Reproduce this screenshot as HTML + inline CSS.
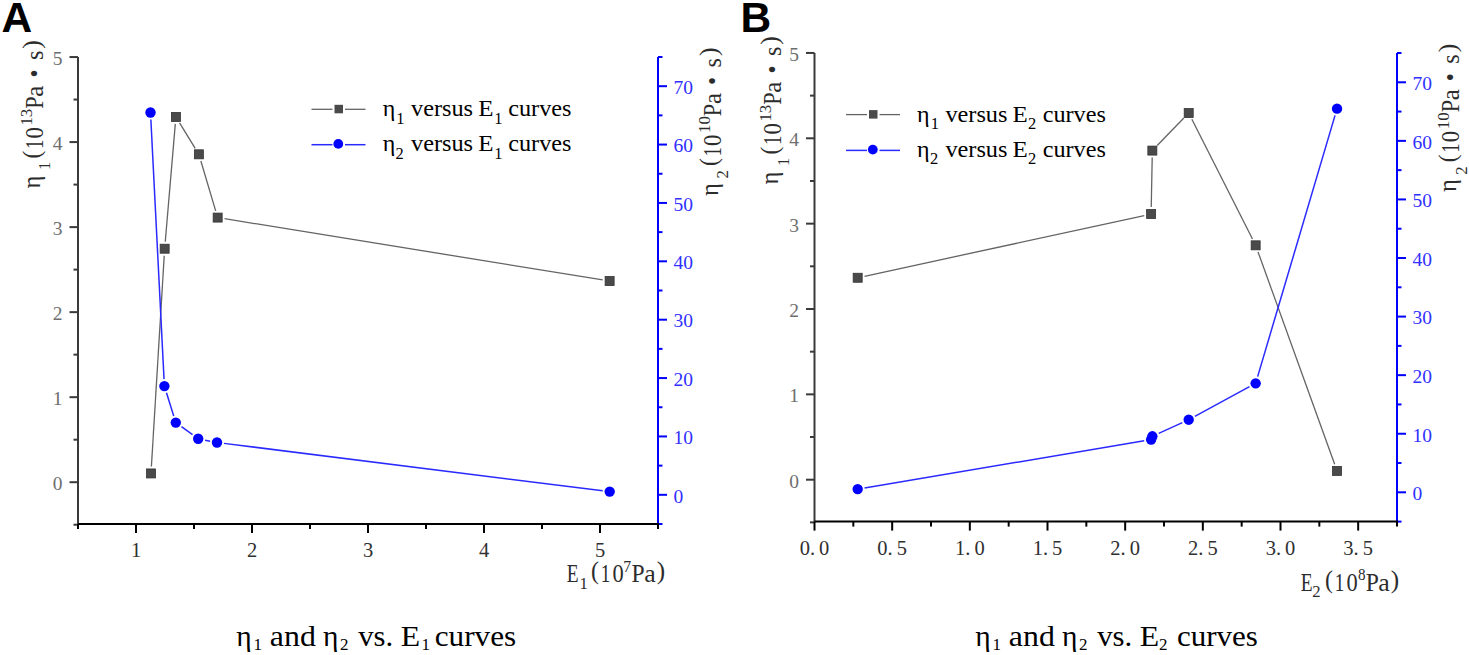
<!DOCTYPE html>
<html><head><meta charset="utf-8"><title>Figure</title>
<style>
html,body{margin:0;padding:0;background:#fff;}
body{width:1469px;height:655px;overflow:hidden;}
svg{display:block;font-family:"Liberation Serif", serif;}
</style></head><body>
<svg width="1469" height="655" viewBox="0 0 1469 655">
<rect width="1469" height="655" fill="#fff"/>
<text x="1.5" y="32" font-family='"Liberation Sans", sans-serif' font-weight="bold" font-size="42.5" fill="#000">A</text>
<text x="740.5" y="32.4" font-family='"Liberation Sans", sans-serif' font-weight="bold" font-size="42.5" fill="#000">B</text>
<line x1="78.0" y1="57.0" x2="78.0" y2="524.0" stroke="#3a3a3a" stroke-width="2"/>
<line x1="69.5" y1="482.2" x2="78.0" y2="482.2" stroke="#3a3a3a" stroke-width="2"/>
<line x1="69.5" y1="397.17" x2="78.0" y2="397.17" stroke="#3a3a3a" stroke-width="2"/>
<line x1="69.5" y1="312.14" x2="78.0" y2="312.14" stroke="#3a3a3a" stroke-width="2"/>
<line x1="69.5" y1="227.11" x2="78.0" y2="227.11" stroke="#3a3a3a" stroke-width="2"/>
<line x1="69.5" y1="142.08" x2="78.0" y2="142.08" stroke="#3a3a3a" stroke-width="2"/>
<line x1="69.5" y1="57.05" x2="78.0" y2="57.05" stroke="#3a3a3a" stroke-width="2"/>
<line x1="73.5" y1="524.72" x2="78.0" y2="524.72" stroke="#3a3a3a" stroke-width="2"/>
<line x1="73.5" y1="439.69" x2="78.0" y2="439.69" stroke="#3a3a3a" stroke-width="2"/>
<line x1="73.5" y1="354.65" x2="78.0" y2="354.65" stroke="#3a3a3a" stroke-width="2"/>
<line x1="73.5" y1="269.62" x2="78.0" y2="269.62" stroke="#3a3a3a" stroke-width="2"/>
<line x1="73.5" y1="184.59" x2="78.0" y2="184.59" stroke="#3a3a3a" stroke-width="2"/>
<line x1="73.5" y1="99.56" x2="78.0" y2="99.56" stroke="#3a3a3a" stroke-width="2"/>
<line x1="658.0" y1="57.0" x2="658.0" y2="524.0" stroke="#0000ff" stroke-width="2"/>
<line x1="658.0" y1="494.81" x2="667.0" y2="494.81" stroke="#0000ff" stroke-width="2"/>
<line x1="658.0" y1="436.44" x2="667.0" y2="436.44" stroke="#0000ff" stroke-width="2"/>
<line x1="658.0" y1="378.06" x2="667.0" y2="378.06" stroke="#0000ff" stroke-width="2"/>
<line x1="658.0" y1="319.69" x2="667.0" y2="319.69" stroke="#0000ff" stroke-width="2"/>
<line x1="658.0" y1="261.31" x2="667.0" y2="261.31" stroke="#0000ff" stroke-width="2"/>
<line x1="658.0" y1="202.94" x2="667.0" y2="202.94" stroke="#0000ff" stroke-width="2"/>
<line x1="658.0" y1="144.56" x2="667.0" y2="144.56" stroke="#0000ff" stroke-width="2"/>
<line x1="658.0" y1="86.19" x2="667.0" y2="86.19" stroke="#0000ff" stroke-width="2"/>
<line x1="658.0" y1="524" x2="662.5" y2="524" stroke="#0000ff" stroke-width="2"/>
<line x1="658.0" y1="465.62" x2="662.5" y2="465.62" stroke="#0000ff" stroke-width="2"/>
<line x1="658.0" y1="407.25" x2="662.5" y2="407.25" stroke="#0000ff" stroke-width="2"/>
<line x1="658.0" y1="348.88" x2="662.5" y2="348.88" stroke="#0000ff" stroke-width="2"/>
<line x1="658.0" y1="290.5" x2="662.5" y2="290.5" stroke="#0000ff" stroke-width="2"/>
<line x1="658.0" y1="232.12" x2="662.5" y2="232.12" stroke="#0000ff" stroke-width="2"/>
<line x1="658.0" y1="173.75" x2="662.5" y2="173.75" stroke="#0000ff" stroke-width="2"/>
<line x1="658.0" y1="115.38" x2="662.5" y2="115.38" stroke="#0000ff" stroke-width="2"/>
<line x1="658.0" y1="57" x2="662.5" y2="57" stroke="#0000ff" stroke-width="2"/>
<line x1="78.0" y1="524.0" x2="659.0" y2="524.0" stroke="#000" stroke-width="2"/>
<line x1="136" y1="524.0" x2="136" y2="533.0" stroke="#000" stroke-width="2"/>
<line x1="252" y1="524.0" x2="252" y2="533.0" stroke="#000" stroke-width="2"/>
<line x1="368" y1="524.0" x2="368" y2="533.0" stroke="#000" stroke-width="2"/>
<line x1="484" y1="524.0" x2="484" y2="533.0" stroke="#000" stroke-width="2"/>
<line x1="600" y1="524.0" x2="600" y2="533.0" stroke="#000" stroke-width="2"/>
<line x1="78" y1="524.0" x2="78" y2="529.0" stroke="#000" stroke-width="2"/>
<line x1="194" y1="524.0" x2="194" y2="529.0" stroke="#000" stroke-width="2"/>
<line x1="310" y1="524.0" x2="310" y2="529.0" stroke="#000" stroke-width="2"/>
<line x1="426" y1="524.0" x2="426" y2="529.0" stroke="#000" stroke-width="2"/>
<line x1="542" y1="524.0" x2="542" y2="529.0" stroke="#000" stroke-width="2"/>
<line x1="658" y1="524.0" x2="658" y2="529.0" stroke="#000" stroke-width="2"/>
<text x="62.5" y="490.2" text-anchor="end" font-size="19.5" fill="#6e6e6e">0</text>
<text x="62.5" y="405.17" text-anchor="end" font-size="19.5" fill="#6e6e6e">1</text>
<text x="62.5" y="320.14" text-anchor="end" font-size="19.5" fill="#6e6e6e">2</text>
<text x="62.5" y="235.11" text-anchor="end" font-size="19.5" fill="#6e6e6e">3</text>
<text x="62.5" y="150.08" text-anchor="end" font-size="19.5" fill="#6e6e6e">4</text>
<text x="62.5" y="65.05" text-anchor="end" font-size="19.5" fill="#6e6e6e">5</text>
<text x="673.5" y="502.61" font-size="19.5" fill="#3030ff">0</text>
<text x="673.5" y="444.24" font-size="19.5" fill="#3030ff">10</text>
<text x="673.5" y="385.86" font-size="19.5" fill="#3030ff">20</text>
<text x="673.5" y="327.49" font-size="19.5" fill="#3030ff">30</text>
<text x="673.5" y="269.11" font-size="19.5" fill="#3030ff">40</text>
<text x="673.5" y="210.74" font-size="19.5" fill="#3030ff">50</text>
<text x="673.5" y="152.36" font-size="19.5" fill="#3030ff">60</text>
<text x="673.5" y="93.99" font-size="19.5" fill="#3030ff">70</text>
<text x="136" y="557.4" text-anchor="middle" font-size="20.5" fill="#303030">1</text>
<text x="252" y="557.4" text-anchor="middle" font-size="20.5" fill="#303030">2</text>
<text x="368" y="557.4" text-anchor="middle" font-size="20.5" fill="#303030">3</text>
<text x="484" y="557.4" text-anchor="middle" font-size="20.5" fill="#303030">4</text>
<text x="600" y="557.4" text-anchor="middle" font-size="20.5" fill="#303030">5</text>
<line x1="814.5" y1="53.0" x2="814.5" y2="521.6" stroke="#3a3a3a" stroke-width="2"/>
<line x1="806.0" y1="479.7" x2="814.5" y2="479.7" stroke="#3a3a3a" stroke-width="2"/>
<line x1="806.0" y1="394.35" x2="814.5" y2="394.35" stroke="#3a3a3a" stroke-width="2"/>
<line x1="806.0" y1="309" x2="814.5" y2="309" stroke="#3a3a3a" stroke-width="2"/>
<line x1="806.0" y1="223.65" x2="814.5" y2="223.65" stroke="#3a3a3a" stroke-width="2"/>
<line x1="806.0" y1="138.3" x2="814.5" y2="138.3" stroke="#3a3a3a" stroke-width="2"/>
<line x1="806.0" y1="52.95" x2="814.5" y2="52.95" stroke="#3a3a3a" stroke-width="2"/>
<line x1="810.0" y1="522.38" x2="814.5" y2="522.38" stroke="#3a3a3a" stroke-width="2"/>
<line x1="810.0" y1="437.02" x2="814.5" y2="437.02" stroke="#3a3a3a" stroke-width="2"/>
<line x1="810.0" y1="351.68" x2="814.5" y2="351.68" stroke="#3a3a3a" stroke-width="2"/>
<line x1="810.0" y1="266.32" x2="814.5" y2="266.32" stroke="#3a3a3a" stroke-width="2"/>
<line x1="810.0" y1="180.98" x2="814.5" y2="180.98" stroke="#3a3a3a" stroke-width="2"/>
<line x1="810.0" y1="95.62" x2="814.5" y2="95.62" stroke="#3a3a3a" stroke-width="2"/>
<line x1="1397.0" y1="53.0" x2="1397.0" y2="521.6" stroke="#0000ff" stroke-width="2"/>
<line x1="1397.0" y1="492.31" x2="1406.0" y2="492.31" stroke="#0000ff" stroke-width="2"/>
<line x1="1397.0" y1="433.74" x2="1406.0" y2="433.74" stroke="#0000ff" stroke-width="2"/>
<line x1="1397.0" y1="375.16" x2="1406.0" y2="375.16" stroke="#0000ff" stroke-width="2"/>
<line x1="1397.0" y1="316.59" x2="1406.0" y2="316.59" stroke="#0000ff" stroke-width="2"/>
<line x1="1397.0" y1="258.01" x2="1406.0" y2="258.01" stroke="#0000ff" stroke-width="2"/>
<line x1="1397.0" y1="199.44" x2="1406.0" y2="199.44" stroke="#0000ff" stroke-width="2"/>
<line x1="1397.0" y1="140.86" x2="1406.0" y2="140.86" stroke="#0000ff" stroke-width="2"/>
<line x1="1397.0" y1="82.29" x2="1406.0" y2="82.29" stroke="#0000ff" stroke-width="2"/>
<line x1="1397.0" y1="521.6" x2="1401.5" y2="521.6" stroke="#0000ff" stroke-width="2"/>
<line x1="1397.0" y1="463.03" x2="1401.5" y2="463.03" stroke="#0000ff" stroke-width="2"/>
<line x1="1397.0" y1="404.45" x2="1401.5" y2="404.45" stroke="#0000ff" stroke-width="2"/>
<line x1="1397.0" y1="345.88" x2="1401.5" y2="345.88" stroke="#0000ff" stroke-width="2"/>
<line x1="1397.0" y1="287.3" x2="1401.5" y2="287.3" stroke="#0000ff" stroke-width="2"/>
<line x1="1397.0" y1="228.73" x2="1401.5" y2="228.73" stroke="#0000ff" stroke-width="2"/>
<line x1="1397.0" y1="170.15" x2="1401.5" y2="170.15" stroke="#0000ff" stroke-width="2"/>
<line x1="1397.0" y1="111.57" x2="1401.5" y2="111.57" stroke="#0000ff" stroke-width="2"/>
<line x1="1397.0" y1="53" x2="1401.5" y2="53" stroke="#0000ff" stroke-width="2"/>
<line x1="814.5" y1="521.6" x2="1398.0" y2="521.6" stroke="#000" stroke-width="2"/>
<line x1="814.5" y1="521.6" x2="814.5" y2="530.6" stroke="#000" stroke-width="2"/>
<line x1="892.17" y1="521.6" x2="892.17" y2="530.6" stroke="#000" stroke-width="2"/>
<line x1="969.83" y1="521.6" x2="969.83" y2="530.6" stroke="#000" stroke-width="2"/>
<line x1="1047.5" y1="521.6" x2="1047.5" y2="530.6" stroke="#000" stroke-width="2"/>
<line x1="1125.17" y1="521.6" x2="1125.17" y2="530.6" stroke="#000" stroke-width="2"/>
<line x1="1202.83" y1="521.6" x2="1202.83" y2="530.6" stroke="#000" stroke-width="2"/>
<line x1="1280.5" y1="521.6" x2="1280.5" y2="530.6" stroke="#000" stroke-width="2"/>
<line x1="1358.17" y1="521.6" x2="1358.17" y2="530.6" stroke="#000" stroke-width="2"/>
<line x1="853.33" y1="521.6" x2="853.33" y2="526.6" stroke="#000" stroke-width="2"/>
<line x1="931" y1="521.6" x2="931" y2="526.6" stroke="#000" stroke-width="2"/>
<line x1="1008.67" y1="521.6" x2="1008.67" y2="526.6" stroke="#000" stroke-width="2"/>
<line x1="1086.33" y1="521.6" x2="1086.33" y2="526.6" stroke="#000" stroke-width="2"/>
<line x1="1164" y1="521.6" x2="1164" y2="526.6" stroke="#000" stroke-width="2"/>
<line x1="1241.67" y1="521.6" x2="1241.67" y2="526.6" stroke="#000" stroke-width="2"/>
<line x1="1319.33" y1="521.6" x2="1319.33" y2="526.6" stroke="#000" stroke-width="2"/>
<line x1="1397" y1="521.6" x2="1397" y2="526.6" stroke="#000" stroke-width="2"/>
<text x="799" y="487.7" text-anchor="end" font-size="19.5" fill="#6e6e6e">0</text>
<text x="799" y="402.35" text-anchor="end" font-size="19.5" fill="#6e6e6e">1</text>
<text x="799" y="317" text-anchor="end" font-size="19.5" fill="#6e6e6e">2</text>
<text x="799" y="231.65" text-anchor="end" font-size="19.5" fill="#6e6e6e">3</text>
<text x="799" y="146.3" text-anchor="end" font-size="19.5" fill="#6e6e6e">4</text>
<text x="799" y="60.95" text-anchor="end" font-size="19.5" fill="#6e6e6e">5</text>
<text x="1412.5" y="500.11" font-size="19.5" fill="#3030ff">0</text>
<text x="1412.5" y="441.54" font-size="19.5" fill="#3030ff">10</text>
<text x="1412.5" y="382.96" font-size="19.5" fill="#3030ff">20</text>
<text x="1412.5" y="324.39" font-size="19.5" fill="#3030ff">30</text>
<text x="1412.5" y="265.81" font-size="19.5" fill="#3030ff">40</text>
<text x="1412.5" y="207.24" font-size="19.5" fill="#3030ff">50</text>
<text x="1412.5" y="148.66" font-size="19.5" fill="#3030ff">60</text>
<text x="1412.5" y="90.09" font-size="19.5" fill="#3030ff">70</text>
<text x="814.5" y="555" text-anchor="middle" font-size="20.5" fill="#303030">0. 0</text>
<text x="892.17" y="555" text-anchor="middle" font-size="20.5" fill="#303030">0. 5</text>
<text x="969.83" y="555" text-anchor="middle" font-size="20.5" fill="#303030">1. 0</text>
<text x="1047.5" y="555" text-anchor="middle" font-size="20.5" fill="#303030">1. 5</text>
<text x="1125.17" y="555" text-anchor="middle" font-size="20.5" fill="#303030">2. 0</text>
<text x="1202.83" y="555" text-anchor="middle" font-size="20.5" fill="#303030">2. 5</text>
<text x="1280.5" y="555" text-anchor="middle" font-size="20.5" fill="#303030">3. 0</text>
<text x="1358.17" y="555" text-anchor="middle" font-size="20.5" fill="#303030">3. 5</text>
<line x1="151.39" y1="466.45" x2="164.23" y2="255.69" stroke="#646464" stroke-width="1.3"/>
<line x1="165.25" y1="241.73" x2="175.31" y2="123.89" stroke="#646464" stroke-width="1.3"/>
<line x1="179.57" y1="122.88" x2="195.21" y2="148.36" stroke="#646464" stroke-width="1.3"/>
<line x1="200.87" y1="161.03" x2="215.67" y2="210.88" stroke="#646464" stroke-width="1.3"/>
<line x1="224.57" y1="218.7" x2="602.72" y2="279.9" stroke="#646464" stroke-width="1.3"/>
<rect x="146.46" y="468.94" width="9" height="9" fill="#4a4a4a" stroke="#333" stroke-width="0.8"/>
<rect x="160.15" y="244.21" width="9" height="9" fill="#4a4a4a" stroke="#333" stroke-width="0.8"/>
<rect x="171.4" y="112.41" width="9" height="9" fill="#4a4a4a" stroke="#333" stroke-width="0.8"/>
<rect x="194.37" y="149.82" width="9" height="9" fill="#4a4a4a" stroke="#333" stroke-width="0.8"/>
<rect x="213.16" y="213.09" width="9" height="9" fill="#4a4a4a" stroke="#333" stroke-width="0.8"/>
<rect x="605.13" y="276.52" width="9" height="9" fill="#4a4a4a" stroke="#333" stroke-width="0.8"/>
<line x1="150.86" y1="119.49" x2="164.04" y2="379.11" stroke="#2a2aff" stroke-width="1.5"/>
<line x1="166.49" y1="392.78" x2="173.71" y2="415.92" stroke="#2a2aff" stroke-width="1.5"/>
<line x1="181.47" y1="426.7" x2="192.53" y2="434.7" stroke="#2a2aff" stroke-width="1.5"/>
<line x1="205.07" y1="440.15" x2="210.13" y2="441.15" stroke="#2a2aff" stroke-width="1.5"/>
<line x1="223.95" y1="443.37" x2="602.75" y2="490.73" stroke="#2a2aff" stroke-width="1.5"/>
<circle cx="150.5" cy="112.5" r="5.2" fill="#0000ff"/>
<circle cx="164.4" cy="386.1" r="5.2" fill="#0000ff"/>
<circle cx="175.8" cy="422.6" r="5.2" fill="#0000ff"/>
<circle cx="198.2" cy="438.8" r="5.2" fill="#0000ff"/>
<circle cx="217" cy="442.5" r="5.2" fill="#0000ff"/>
<circle cx="609.7" cy="491.6" r="5.2" fill="#0000ff"/>
<line x1="864.52" y1="276.28" x2="1144.27" y2="215.58" stroke="#646464" stroke-width="1.3"/>
<line x1="1151.24" y1="207.09" x2="1152.21" y2="157.59" stroke="#646464" stroke-width="1.3"/>
<line x1="1157.22" y1="145.56" x2="1183.83" y2="118.07" stroke="#646464" stroke-width="1.3"/>
<line x1="1191.86" y1="119.28" x2="1252.49" y2="239.08" stroke="#646464" stroke-width="1.3"/>
<line x1="1258.02" y1="251.91" x2="1334.67" y2="464.32" stroke="#646464" stroke-width="1.3"/>
<rect x="853.18" y="273.26" width="9" height="9" fill="#4a4a4a" stroke="#333" stroke-width="0.8"/>
<rect x="1146.61" y="209.59" width="9" height="9" fill="#4a4a4a" stroke="#333" stroke-width="0.8"/>
<rect x="1147.85" y="146.09" width="9" height="9" fill="#4a4a4a" stroke="#333" stroke-width="0.8"/>
<rect x="1184.2" y="108.54" width="9" height="9" fill="#4a4a4a" stroke="#333" stroke-width="0.8"/>
<rect x="1251.15" y="240.83" width="9" height="9" fill="#4a4a4a" stroke="#333" stroke-width="0.8"/>
<rect x="1332.54" y="466.41" width="9" height="9" fill="#4a4a4a" stroke="#333" stroke-width="0.8"/>
<line x1="864.59" y1="487.93" x2="1144.2" y2="440.76" stroke="#2a2aff" stroke-width="1.5"/>

<line x1="1158.72" y1="433.4" x2="1182.33" y2="422.59" stroke="#2a2aff" stroke-width="1.5"/>
<line x1="1194.85" y1="416.34" x2="1249.49" y2="386.7" stroke="#2a2aff" stroke-width="1.5"/>
<line x1="1257.64" y1="376.65" x2="1335.05" y2="115.36" stroke="#2a2aff" stroke-width="1.5"/>
<circle cx="857.68" cy="489.09" r="5.2" fill="#0000ff"/>
<circle cx="1151.11" cy="439.6" r="5.2" fill="#0000ff"/>
<circle cx="1152.35" cy="436.31" r="5.2" fill="#0000ff"/>
<circle cx="1188.7" cy="419.68" r="5.2" fill="#0000ff"/>
<circle cx="1255.65" cy="383.36" r="5.2" fill="#0000ff"/>
<circle cx="1337.04" cy="108.65" r="5.2" fill="#0000ff"/>
<line x1="311.5" y1="109.3" x2="332.5" y2="109.3" stroke="#646464" stroke-width="1.3"/>
<line x1="345.0" y1="109.3" x2="365.5" y2="109.3" stroke="#646464" stroke-width="1.3"/>
<rect x="334.5" y="104.8" width="8.5" height="8.5" fill="#4a4a4a"/>
<line x1="311.5" y1="144.7" x2="332.5" y2="144.7" stroke="#2a2aff" stroke-width="1.5"/>
<line x1="345.0" y1="144.7" x2="365.5" y2="144.7" stroke="#2a2aff" stroke-width="1.5"/>
<circle cx="338.3" cy="143.89999999999998" r="4.9" fill="#0000ff"/>
<text x="382.73" y="116.2" font-size="24" fill="#000">η</text>
<text x="396.25" y="123.6" font-size="16.5" fill="#000">1</text>
<text x="411" y="116.2" font-size="24" fill="#000" textLength="62.08" lengthAdjust="spacingAndGlyphs">versus</text>
<text x="478.18" y="116.2" font-size="24" fill="#000" textLength="15.26" lengthAdjust="spacingAndGlyphs">E</text>
<text x="494.15" y="123.6" font-size="16.5" fill="#000">1</text>
<text x="508.28" y="116.2" font-size="24" fill="#000" textLength="63.2" lengthAdjust="spacingAndGlyphs">curves</text>
<text x="382.73" y="151.2" font-size="24" fill="#000">η</text>
<text x="395.57" y="158.6" font-size="16.5" fill="#000">2</text>
<text x="411" y="151.2" font-size="24" fill="#000" textLength="62.08" lengthAdjust="spacingAndGlyphs">versus</text>
<text x="478.18" y="151.2" font-size="24" fill="#000" textLength="15.26" lengthAdjust="spacingAndGlyphs">E</text>
<text x="494.15" y="158.6" font-size="16.5" fill="#000">1</text>
<text x="508.28" y="151.2" font-size="24" fill="#000" textLength="63.2" lengthAdjust="spacingAndGlyphs">curves</text>
<line x1="846" y1="114.6" x2="867" y2="114.6" stroke="#646464" stroke-width="1.3"/>
<line x1="879.5" y1="114.6" x2="900" y2="114.6" stroke="#646464" stroke-width="1.3"/>
<rect x="869" y="110.1" width="8.5" height="8.5" fill="#4a4a4a"/>
<line x1="846" y1="150.4" x2="867" y2="150.4" stroke="#2a2aff" stroke-width="1.5"/>
<line x1="879.5" y1="150.4" x2="900" y2="150.4" stroke="#2a2aff" stroke-width="1.5"/>
<circle cx="872.8" cy="149.6" r="4.9" fill="#0000ff"/>
<text x="917.12" y="121.8" font-size="24" fill="#000">η</text>
<text x="930.65" y="129.2" font-size="16.5" fill="#000">1</text>
<text x="945.4" y="121.8" font-size="24" fill="#000" textLength="62.08" lengthAdjust="spacingAndGlyphs">versus</text>
<text x="1012.58" y="121.8" font-size="24" fill="#000" textLength="15.26" lengthAdjust="spacingAndGlyphs">E</text>
<text x="1028.07" y="129.2" font-size="16.5" fill="#000">2</text>
<text x="1042.68" y="121.8" font-size="24" fill="#000" textLength="63.2" lengthAdjust="spacingAndGlyphs">curves</text>
<text x="917.12" y="156.8" font-size="24" fill="#000">η</text>
<text x="929.97" y="164.2" font-size="16.5" fill="#000">2</text>
<text x="945.4" y="156.8" font-size="24" fill="#000" textLength="62.08" lengthAdjust="spacingAndGlyphs">versus</text>
<text x="1012.58" y="156.8" font-size="24" fill="#000" textLength="15.26" lengthAdjust="spacingAndGlyphs">E</text>
<text x="1028.07" y="164.2" font-size="16.5" fill="#000">2</text>
<text x="1042.68" y="156.8" font-size="24" fill="#000" textLength="63.2" lengthAdjust="spacingAndGlyphs">curves</text>
<text transform="translate(42.8,188.1) rotate(-90)" x="-0.38" y="-3" font-size="24.5" fill="#2c2c2c">η</text>
<text transform="translate(42.8,188.1) rotate(-90)" x="18.23" y="7.5" font-size="16.7" fill="#2c2c2c">1</text>
<text transform="translate(42.8,188.1) rotate(-90)" x="29.57" y="-3.3" font-size="24.5" fill="#2c2c2c" textLength="7.78" lengthAdjust="spacingAndGlyphs">(</text>
<text transform="translate(42.8,188.1) rotate(-90)" x="39.05" y="0" font-size="24.5" fill="#2c2c2c" textLength="9.37" lengthAdjust="spacingAndGlyphs">1</text>
<text transform="translate(42.8,188.1) rotate(-90)" x="49.54" y="0" font-size="24.5" fill="#2c2c2c" textLength="11.33" lengthAdjust="spacingAndGlyphs">0</text>
<text transform="translate(42.8,188.1) rotate(-90)" x="62.51" y="-10.6" font-size="16.7" fill="#2c2c2c" textLength="16.95" lengthAdjust="spacingAndGlyphs">13</text>
<text transform="translate(42.8,188.1) rotate(-90)" x="79.36" y="0" font-size="24.5" fill="#2c2c2c" textLength="12.33" lengthAdjust="spacingAndGlyphs">P</text>
<text transform="translate(42.8,188.1) rotate(-90)" x="91.43" y="0" font-size="24.5" fill="#2c2c2c" textLength="11.01" lengthAdjust="spacingAndGlyphs">a</text>
<text transform="translate(42.8,188.1) rotate(-90)" x="110.52" y="0" font-size="24.5" fill="#2c2c2c" textLength="7.95" lengthAdjust="spacingAndGlyphs">•</text>
<text transform="translate(42.8,188.1) rotate(-90)" x="128.01" y="0" font-size="24.5" fill="#2c2c2c" textLength="9.35" lengthAdjust="spacingAndGlyphs">s</text>
<text transform="translate(42.8,188.1) rotate(-90)" x="139.47" y="-3.3" font-size="24.5" fill="#2c2c2c" textLength="8.56" lengthAdjust="spacingAndGlyphs">)</text>
<text transform="translate(720.6,195.5) rotate(-90)" x="-0.38" y="-3" font-size="24.5" fill="#2c2c2c">η</text>
<text transform="translate(720.6,195.5) rotate(-90)" x="17.07" y="7.5" font-size="16.7" fill="#2c2c2c">2</text>
<text transform="translate(720.6,195.5) rotate(-90)" x="29.57" y="-3.3" font-size="24.5" fill="#2c2c2c" textLength="7.78" lengthAdjust="spacingAndGlyphs">(</text>
<text transform="translate(720.6,195.5) rotate(-90)" x="39.05" y="0" font-size="24.5" fill="#2c2c2c" textLength="9.37" lengthAdjust="spacingAndGlyphs">1</text>
<text transform="translate(720.6,195.5) rotate(-90)" x="49.54" y="0" font-size="24.5" fill="#2c2c2c" textLength="11.33" lengthAdjust="spacingAndGlyphs">0</text>
<text transform="translate(720.6,195.5) rotate(-90)" x="62.51" y="-10.6" font-size="16.7" fill="#2c2c2c" textLength="16.93" lengthAdjust="spacingAndGlyphs">10</text>
<text transform="translate(720.6,195.5) rotate(-90)" x="79.36" y="0" font-size="24.5" fill="#2c2c2c" textLength="12.33" lengthAdjust="spacingAndGlyphs">P</text>
<text transform="translate(720.6,195.5) rotate(-90)" x="91.43" y="0" font-size="24.5" fill="#2c2c2c" textLength="11.01" lengthAdjust="spacingAndGlyphs">a</text>
<text transform="translate(720.6,195.5) rotate(-90)" x="110.52" y="0" font-size="24.5" fill="#2c2c2c" textLength="7.95" lengthAdjust="spacingAndGlyphs">•</text>
<text transform="translate(720.6,195.5) rotate(-90)" x="128.01" y="0" font-size="24.5" fill="#2c2c2c" textLength="9.35" lengthAdjust="spacingAndGlyphs">s</text>
<text transform="translate(720.6,195.5) rotate(-90)" x="139.47" y="-3.3" font-size="24.5" fill="#2c2c2c" textLength="8.56" lengthAdjust="spacingAndGlyphs">)</text>
<text transform="translate(781.3,184.1) rotate(-90)" x="-0.38" y="-3" font-size="24.5" fill="#2c2c2c">η</text>
<text transform="translate(781.3,184.1) rotate(-90)" x="18.23" y="7.5" font-size="16.7" fill="#2c2c2c">1</text>
<text transform="translate(781.3,184.1) rotate(-90)" x="29.57" y="-3.3" font-size="24.5" fill="#2c2c2c" textLength="7.78" lengthAdjust="spacingAndGlyphs">(</text>
<text transform="translate(781.3,184.1) rotate(-90)" x="39.05" y="0" font-size="24.5" fill="#2c2c2c" textLength="9.37" lengthAdjust="spacingAndGlyphs">1</text>
<text transform="translate(781.3,184.1) rotate(-90)" x="49.54" y="0" font-size="24.5" fill="#2c2c2c" textLength="11.33" lengthAdjust="spacingAndGlyphs">0</text>
<text transform="translate(781.3,184.1) rotate(-90)" x="62.51" y="-10.6" font-size="16.7" fill="#2c2c2c" textLength="16.95" lengthAdjust="spacingAndGlyphs">13</text>
<text transform="translate(781.3,184.1) rotate(-90)" x="79.36" y="0" font-size="24.5" fill="#2c2c2c" textLength="12.33" lengthAdjust="spacingAndGlyphs">P</text>
<text transform="translate(781.3,184.1) rotate(-90)" x="91.43" y="0" font-size="24.5" fill="#2c2c2c" textLength="11.01" lengthAdjust="spacingAndGlyphs">a</text>
<text transform="translate(781.3,184.1) rotate(-90)" x="110.52" y="0" font-size="24.5" fill="#2c2c2c" textLength="7.95" lengthAdjust="spacingAndGlyphs">•</text>
<text transform="translate(781.3,184.1) rotate(-90)" x="128.01" y="0" font-size="24.5" fill="#2c2c2c" textLength="9.35" lengthAdjust="spacingAndGlyphs">s</text>
<text transform="translate(781.3,184.1) rotate(-90)" x="139.47" y="-3.3" font-size="24.5" fill="#2c2c2c" textLength="8.56" lengthAdjust="spacingAndGlyphs">)</text>
<text transform="translate(1459.2,191.7) rotate(-90)" x="-0.38" y="-3" font-size="24.5" fill="#2c2c2c">η</text>
<text transform="translate(1459.2,191.7) rotate(-90)" x="17.07" y="7.5" font-size="16.7" fill="#2c2c2c">2</text>
<text transform="translate(1459.2,191.7) rotate(-90)" x="29.57" y="-3.3" font-size="24.5" fill="#2c2c2c" textLength="7.78" lengthAdjust="spacingAndGlyphs">(</text>
<text transform="translate(1459.2,191.7) rotate(-90)" x="39.05" y="0" font-size="24.5" fill="#2c2c2c" textLength="9.37" lengthAdjust="spacingAndGlyphs">1</text>
<text transform="translate(1459.2,191.7) rotate(-90)" x="49.54" y="0" font-size="24.5" fill="#2c2c2c" textLength="11.33" lengthAdjust="spacingAndGlyphs">0</text>
<text transform="translate(1459.2,191.7) rotate(-90)" x="62.51" y="-10.6" font-size="16.7" fill="#2c2c2c" textLength="16.93" lengthAdjust="spacingAndGlyphs">10</text>
<text transform="translate(1459.2,191.7) rotate(-90)" x="79.36" y="0" font-size="24.5" fill="#2c2c2c" textLength="12.33" lengthAdjust="spacingAndGlyphs">P</text>
<text transform="translate(1459.2,191.7) rotate(-90)" x="91.43" y="0" font-size="24.5" fill="#2c2c2c" textLength="11.01" lengthAdjust="spacingAndGlyphs">a</text>
<text transform="translate(1459.2,191.7) rotate(-90)" x="110.52" y="0" font-size="24.5" fill="#2c2c2c" textLength="7.95" lengthAdjust="spacingAndGlyphs">•</text>
<text transform="translate(1459.2,191.7) rotate(-90)" x="128.01" y="0" font-size="24.5" fill="#2c2c2c" textLength="9.35" lengthAdjust="spacingAndGlyphs">s</text>
<text transform="translate(1459.2,191.7) rotate(-90)" x="139.47" y="-3.3" font-size="24.5" fill="#2c2c2c" textLength="8.56" lengthAdjust="spacingAndGlyphs">)</text>
<text x="566.74" y="582.4" font-size="24.5" fill="#2c2c2c" textLength="11.82" lengthAdjust="spacingAndGlyphs">E</text>
<text x="579.53" y="588.6" font-size="16.7" fill="#2c2c2c">1</text>
<text x="590.96" y="579" font-size="24.5" fill="#2c2c2c" textLength="7.91" lengthAdjust="spacingAndGlyphs">(</text>
<text x="600.63" y="582.4" font-size="24.5" fill="#2c2c2c" textLength="9.52" lengthAdjust="spacingAndGlyphs">1</text>
<text x="612.45" y="582.4" font-size="24.5" fill="#2c2c2c" textLength="11.21" lengthAdjust="spacingAndGlyphs">0</text>
<text x="623.36" y="572.4" font-size="16.7" fill="#2c2c2c" textLength="7.9" lengthAdjust="spacingAndGlyphs">7</text>
<text x="631.62" y="582.4" font-size="24.5" fill="#2c2c2c" textLength="13.12" lengthAdjust="spacingAndGlyphs">P</text>
<text x="644.19" y="582.4" font-size="24.5" fill="#2c2c2c" textLength="11.46" lengthAdjust="spacingAndGlyphs">a</text>
<text x="656.78" y="579" font-size="24.5" fill="#2c2c2c" textLength="8.43" lengthAdjust="spacingAndGlyphs">)</text>
<text x="1300.84" y="590.9" font-size="24.5" fill="#2c2c2c" textLength="11.82" lengthAdjust="spacingAndGlyphs">E</text>
<text x="1312.17" y="597.1" font-size="16.7" fill="#2c2c2c">2</text>
<text x="1325.06" y="587.5" font-size="24.5" fill="#2c2c2c" textLength="7.91" lengthAdjust="spacingAndGlyphs">(</text>
<text x="1334.73" y="590.9" font-size="24.5" fill="#2c2c2c" textLength="9.52" lengthAdjust="spacingAndGlyphs">1</text>
<text x="1346.55" y="590.9" font-size="24.5" fill="#2c2c2c" textLength="11.21" lengthAdjust="spacingAndGlyphs">0</text>
<text x="1357.92" y="579.7" font-size="16.7" fill="#2c2c2c" textLength="7.55" lengthAdjust="spacingAndGlyphs">8</text>
<text x="1365.72" y="590.9" font-size="24.5" fill="#2c2c2c" textLength="13.12" lengthAdjust="spacingAndGlyphs">P</text>
<text x="1378.29" y="590.9" font-size="24.5" fill="#2c2c2c" textLength="11.46" lengthAdjust="spacingAndGlyphs">a</text>
<text x="1390.88" y="587.5" font-size="24.5" fill="#2c2c2c" textLength="8.43" lengthAdjust="spacingAndGlyphs">)</text>
<text x="236.14" y="646.3" font-size="29.5" fill="#000">η</text>
<text x="253.51" y="650.3" font-size="17" fill="#000">1</text>
<text x="269.88" y="646.3" font-size="29.5" fill="#000" textLength="46.01" lengthAdjust="spacingAndGlyphs">and</text>
<text x="322.94" y="646.3" font-size="29.5" fill="#000">η</text>
<text x="340.05" y="650.3" font-size="17" fill="#000">2</text>
<text x="358.2" y="646.3" font-size="29.5" fill="#000" textLength="35.03" lengthAdjust="spacingAndGlyphs">vs.</text>
<text x="400.79" y="646.3" font-size="29.5" fill="#000" textLength="19.4" lengthAdjust="spacingAndGlyphs">E</text>
<text x="421.51" y="650.3" font-size="17" fill="#000">1</text>
<text x="434.71" y="646.3" font-size="29.5" fill="#000" textLength="81.42" lengthAdjust="spacingAndGlyphs">curves</text>
<text x="975.14" y="646.2" font-size="29.5" fill="#000">η</text>
<text x="992.51" y="650.2" font-size="17" fill="#000">1</text>
<text x="1008.88" y="646.2" font-size="29.5" fill="#000" textLength="46.01" lengthAdjust="spacingAndGlyphs">and</text>
<text x="1061.94" y="646.2" font-size="29.5" fill="#000">η</text>
<text x="1079.05" y="650.2" font-size="17" fill="#000">2</text>
<text x="1097.2" y="646.2" font-size="29.5" fill="#000" textLength="35.03" lengthAdjust="spacingAndGlyphs">vs.</text>
<text x="1139.79" y="646.2" font-size="29.5" fill="#000" textLength="19.4" lengthAdjust="spacingAndGlyphs">E</text>
<text x="1158.95" y="650.2" font-size="17" fill="#000">2</text>
<text x="1177.02" y="646.2" font-size="29.5" fill="#000" textLength="80.9" lengthAdjust="spacingAndGlyphs">curves</text>
</svg>
</body></html>
